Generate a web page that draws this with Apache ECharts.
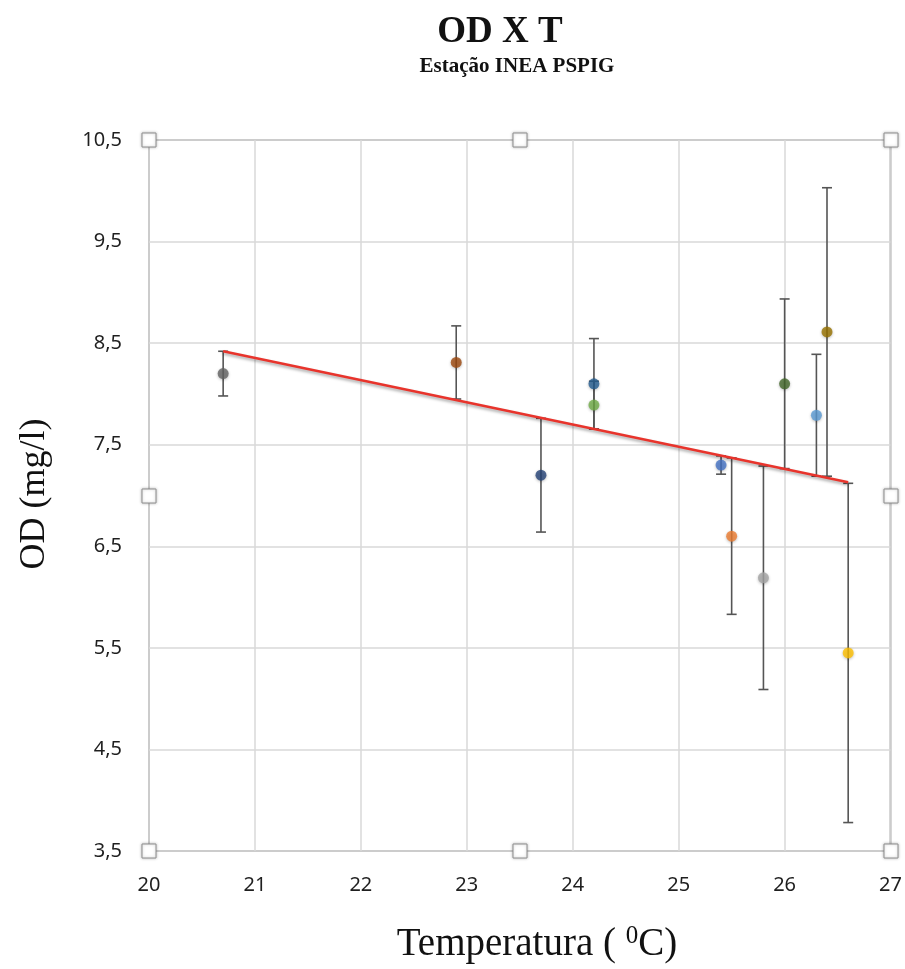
<!DOCTYPE html>
<html>
<head>
<meta charset="utf-8">
<title>OD X T</title>
<script src="https://cdn.jsdelivr.net/npm/echarts@6/dist/echarts.min.js"></script>
<style>
  html, body { margin: 0; padding: 0; background: #ffffff; }
  #chart { width: 905px; height: 969px; }
</style>
</head>
<body>
<div id="chart"></div>
<script>
// Water temperature (°C) and dissolved oxygen (mg/l), one point per sample
const temperature = [25.4, 25.5, 25.8, 26.6, 26.3, 24.2, 23.7, 22.9, 20.7, 26.4, 24.2, 26.0];
const oxygen      = [7.30, 6.60, 6.19, 5.45, 7.79, 7.89, 7.20, 8.31, 8.20, 8.61, 8.10, 8.10];
const errorBar    = [0.09, 0.77, 1.10, 1.67, 0.60, 0.235, 0.56, 0.36, 0.22, 1.42, 0.445, 0.835];
const pointColors = ['#4472C4', '#ED7D31', '#A5A5A5', '#FFC000', '#5B9BD5', '#70AD47',
                     '#264478', '#9E480E', '#636363', '#997300', '#255E91', '#43682B'];

// Linear trend line end points [temperature, oxygen]
const trendStart = [20.7, 8.42];
const trendEnd   = [26.6, 7.13];

// Axis ranges and ticks
const xTicks = [20, 21, 22, 23, 24, 25, 26, 27];
const yTicks = [3.5, 4.5, 5.5, 6.5, 7.5, 8.5, 9.5, 10.5];

const chart = echarts.init(document.getElementById('chart'));

const labelFont = { fontFamily: 'Noto Sans', fontSize: 20, color: '#1f1f1f' };

const option = {
  animation: false,
  backgroundColor: '#ffffff',
  grid: {
    left: 149, top: 140, right: 9, bottom: 118,
    show: true, borderColor: '#a6a6a6', borderWidth: 2, backgroundColor: 'transparent'
  },
  xAxis: {
    type: 'value',
    min: xTicks[0], max: xTicks[xTicks.length - 1], interval: 1,
    axisLine: { show: false },
    axisTick: { show: false },
    splitLine: { show: true, lineStyle: { color: '#d9d9d9', width: 1.5 } },
    axisLabel: Object.assign({ margin: 24, formatter: v => String(v) }, labelFont)
  },
  yAxis: {
    type: 'value',
    min: yTicks[0], max: yTicks[yTicks.length - 1], interval: 1,
    axisLine: { show: false },
    axisTick: { show: false },
    splitLine: { show: true, lineStyle: { color: '#d9d9d9', width: 1.5 } },
    axisLabel: Object.assign({ margin: 27, formatter: v => v.toFixed(1).replace('.', ',') }, labelFont)
  },
  series: [
    {
      // symmetric vertical error bars with caps
      type: 'custom',
      z: 2,
      data: temperature.map((t, i) => [t, oxygen[i], errorBar[i]]),
      renderItem: function (params, api) {
        const x = api.value(0), y = api.value(1), e = api.value(2);
        const top = api.coord([x, y + e]);
        const bot = api.coord([x, y - e]);
        const half = 5;
        const style = { stroke: '#555555', lineWidth: 1.6 };
        return {
          type: 'group',
          children: [
            { type: 'line', shape: { x1: top[0], y1: top[1], x2: bot[0], y2: bot[1] }, style: style },
            { type: 'line', shape: { x1: top[0] - half, y1: top[1], x2: top[0] + half, y2: top[1] }, style: style },
            { type: 'line', shape: { x1: bot[0] - half, y1: bot[1], x2: bot[0] + half, y2: bot[1] }, style: style }
          ]
        };
      }
    },
    {
      type: 'line',
      z: 3,
      data: [trendStart, trendEnd],
      symbol: 'none',
      lineStyle: {
        color: '#e8342c', width: 2.5,
        shadowColor: 'rgba(0,0,0,0.35)', shadowBlur: 3, shadowOffsetY: 2
      }
    },
    {
      type: 'scatter',
      z: 4,
      symbolSize: 11,
      data: temperature.map((t, i) => ({
        value: [t, oxygen[i]],
        itemStyle: {
          color: pointColors[i],
          shadowColor: 'rgba(0,0,0,0.3)', shadowBlur: 3, shadowOffsetY: 1
        }
      }))
    }
  ]
};

chart.setOption(option);

// Titles and axis names
const texts = [
  { type: 'text', x: 500, y: 32, style: { text: 'OD X T', font: 'bold 37px "Liberation Serif"', fill: '#111', align: 'center', verticalAlign: 'middle' } },
  { type: 'text', x: 517, y: 67, style: { text: 'Estação INEA PSPIG', font: 'bold 21px "Liberation Serif"', fill: '#111', align: 'center', verticalAlign: 'middle' } },
  { type: 'text', x: 35, y: 494, rotation: Math.PI / 2,
    style: { text: 'OD (mg/l)', font: '36px "Liberation Serif"', fill: '#111', align: 'center', verticalAlign: 'middle' } },
  { type: 'text', x: 537, y: 945,
    style: {
      text: 'Temperatura ( {sup|0}C)',
      align: 'center', verticalAlign: 'middle',
      fontFamily: 'Liberation Serif', fontSize: 39, fill: '#111',
      rich: { sup: { fontFamily: 'Liberation Serif', fontSize: 25, fill: '#111', verticalAlign: 'top', lineHeight: 42, padding: [0, 0, 18, 0] } }
    } }
];

// Selection handles at the plot area corners and edge midpoints
const xs = [xTicks[0], (xTicks[0] + xTicks[xTicks.length - 1]) / 2, xTicks[xTicks.length - 1]];
const ys = [yTicks[yTicks.length - 1], (yTicks[0] + yTicks[yTicks.length - 1]) / 2, yTicks[0]];
const handles = [];
xs.forEach((xv, i) => {
  ys.forEach((yv, j) => {
    if (i === 1 && j === 1) return;
    const p = chart.convertToPixel({ gridIndex: 0 }, [xv, yv]);
    handles.push({
      type: 'rect', z: 100,
      shape: { x: Math.round(p[0]) - 7, y: Math.round(p[1]) - 7, width: 14, height: 14 },
      style: { fill: '#ffffff', stroke: '#8f8f8f', lineWidth: 1, shadowColor: 'rgba(0,0,0,0.25)', shadowBlur: 3 }
    });
  });
});

chart.setOption({ graphic: texts.concat(handles) });
</script>
</body>
</html>
